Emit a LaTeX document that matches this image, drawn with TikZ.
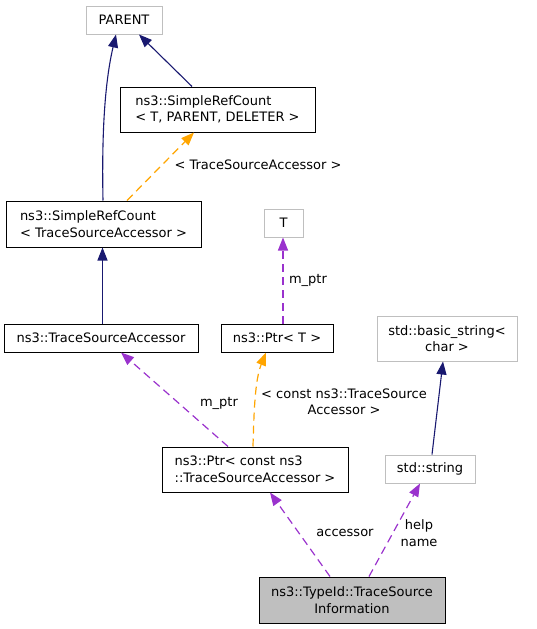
\documentclass[tikz,border=0pt]{standalone}
\usepackage{fontspec}
\setmainfont{DejaVu Sans}
\usetikzlibrary{arrows.meta,calc}
\definecolor{navy}{HTML}{191970}
\definecolor{orng}{HTML}{FFA500}
\definecolor{purp}{HTML}{9A32CD}
\definecolor{grayb}{HTML}{BFBFBF}
\begin{document}
\begin{tikzpicture}[x=1pt,y=-1pt,
  every node/.style={font=\fontsize{13}{16.5}\selectfont, inner sep=0pt},
  box/.style={draw=black, line width=1pt, rectangle},
  gbox/.style={draw=grayb, line width=1pt, rectangle},
  lbl/.style={align=center},
  inh/.style={-{Triangle[length=13pt,width=10pt,fill=navy]}, draw=navy, line width=1.1pt},
  tmpl/.style={-{Triangle[length=13pt,width=10pt,fill=orng]}, draw=orng, line width=1.2pt, dash pattern=on 8pt off 5pt},
  use/.style={-{Triangle[length=13pt,width=10pt,fill=purp]}, draw=purp, line width=1.2pt, dash pattern=on 8pt off 5pt}]
\useasboundingbox (0,0) rectangle (536,629);
\node[gbox, minimum width=76pt, minimum height=28pt] (parent) at (124,20) {PARENT};
\node[box, minimum width=195pt, minimum height=45pt, align=left] (srcTPD) at (217.5,109.5) {ns3::SimpleRefCount\\< T, PARENT, DELETER >};
\node[box, minimum width=195pt, minimum height=46pt, align=left] (srcTSA) at (103.5,224) {ns3::SimpleRefCount\\< TraceSourceAccessor >};
\node[gbox, minimum width=39pt, minimum height=28pt] (T) at (283.5,223) {T};
\node[box, minimum width=194pt, minimum height=28pt] (tsa) at (101,338) {ns3::TraceSourceAccessor};
\node[box, minimum width=112pt, minimum height=28pt] (ptrT) at (277,338) {ns3::Ptr< T >};
\node[gbox, minimum width=140pt, minimum height=45pt, align=center] (bstr) at (447,338.5) {std::basic\_string<\\char >};
\node[box, minimum width=186pt, minimum height=45pt, align=left] (ptrC) at (255,469.5) {ns3::Ptr< const ns3\\::TraceSourceAccessor >};
\node[gbox, minimum width=90pt, minimum height=28pt] (str) at (430,469) {std::string};
\node[box, fill=grayb, minimum width=186pt, minimum height=46pt, align=center] (info) at (352,600) {ns3::TypeId::TraceSource\\Information};

% labels
\node[lbl] (l1) at (258,165) {< TraceSourceAccessor >};
\node[lbl] (l2) at (308,280) {m\_ptr};
\node[lbl] (l3) at (219,403) {m\_ptr};
\node[lbl] (l4) at (344,402) {< const ns3::TraceSource\\Accessor >};
\node[lbl] (l5) at (345,533) {accessor};
\node[lbl] (l6) at (419,533) {help\\name};

% edges
\draw[inh] ([xshift=-0.5pt]srcTSA.north) .. controls (102,150) and (103,90) .. ([xshift=-8pt]parent.south);
\draw[inh] ([xshift=-25.5pt]srcTPD.north) -- ([xshift=15pt]parent.south);
\draw[tmpl] ([xshift=23.5pt]srcTSA.north) -- ([xshift=-23.5pt]srcTPD.south);
\draw[inh] ([xshift=1.5pt]tsa.north) -- ([xshift=-1pt]srcTSA.south);
\draw[use] ([xshift=6pt]ptrT.north) -- ([xshift=-0.5pt]T.south);
\draw[use] ([xshift=-27pt]ptrC.north) -- ([xshift=20pt]tsa.south);
\draw[tmpl] ([xshift=-2pt]ptrC.north) .. controls (254,410) and (255,380) .. ([xshift=-11pt]ptrT.south);
\draw[inh] ([xshift=2pt]str.north) -- ([xshift=-4pt]bstr.south);
\draw[use] ([xshift=-22pt]info.north) -- ([xshift=15pt]ptrC.south);
\draw[use] ([xshift=17pt]info.north) -- ([xshift=-10pt]str.south);
\end{tikzpicture}
\end{document}
